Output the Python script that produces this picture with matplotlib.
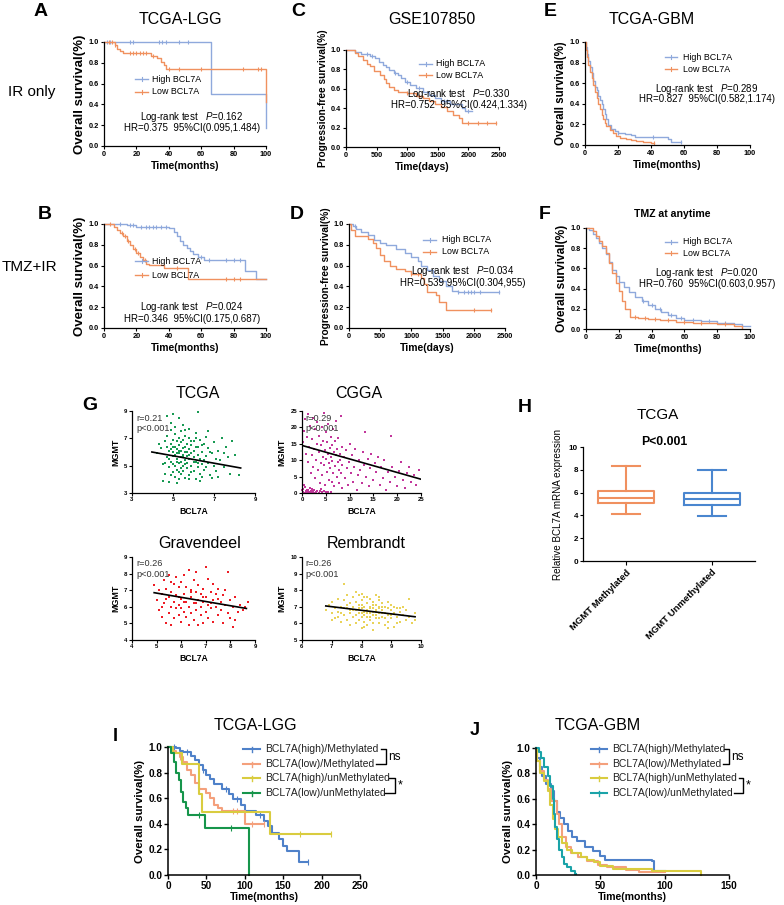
import numpy as np
import matplotlib
matplotlib.use("Agg")
import matplotlib.pyplot as plt
from matplotlib.lines import Line2D

plt.rcParams['font.family'] = ['Liberation Sans', 'DejaVu Sans']
plt.rcParams['mathtext.fontset'] = 'custom'
plt.rcParams['mathtext.it'] = 'Liberation Sans:italic'
plt.rcParams['mathtext.rm'] = 'Liberation Sans'

# ---------------- data ----------------
# A: TCGA-LGG, IR only (months)
A_high_t = [0, 66, 100, 100]
A_high_s = [1.0, 0.5, 0.5, 0.17]
A_high_c = [2, 4, 16, 18, 34, 36, 38, 46, 52]
A_low_t = [0, 7, 8, 10, 12, 29, 33, 35, 37, 38, 100, 100]
A_low_s = [1.0, 0.97, 0.93, 0.91, 0.89, 0.87, 0.85, 0.81, 0.78, 0.74, 0.74, 0.42]
A_low_c = [3, 5, 7, 16, 18, 20, 22, 24, 26, 30, 40, 46, 60, 86, 95, 97]

# B: TCGA-LGG, TMZ+IR (months)
B_high_t = [0, 14, 20, 40, 43, 45, 47, 49, 51, 53, 55, 58, 62, 87, 94, 100]
B_high_s = [1.0, 0.99, 0.97, 0.96, 0.92, 0.88, 0.84, 0.80, 0.77, 0.74, 0.71, 0.68, 0.65, 0.55, 0.47, 0.47]
B_high_c = [10, 16, 18, 23, 26, 28, 30, 32, 35, 38, 60, 65, 75, 80, 84]
B_low_t = [0, 6, 8, 10, 12, 14, 16, 18, 20, 22, 24, 26, 28, 37, 52, 100]
B_low_s = [1.0, 0.97, 0.94, 0.91, 0.88, 0.84, 0.80, 0.76, 0.72, 0.68, 0.65, 0.62, 0.61, 0.58, 0.47, 0.47]
B_low_c = [4, 11, 13, 15, 19, 21, 25, 45, 75, 80, 84]

# C: GSE107850, IR only (days)
C_high_t = [0, 150, 250, 400, 480, 540, 600, 650, 700, 780, 850, 900, 960, 1050, 1150, 1250, 1350,
            1450, 1550, 1700, 1900, 1950, 2060]
C_high_s = [1.0, 0.98, 0.96, 0.94, 0.92, 0.88, 0.85, 0.82, 0.79, 0.76, 0.74, 0.71, 0.67, 0.64, 0.61,
            0.57, 0.54, 0.51, 0.47, 0.44, 0.40, 0.37, 0.37]
C_high_c = [350, 420, 800, 1000, 1200, 1600, 1650, 2000]
C_low_t = [0, 150, 200, 280, 350, 400, 450, 550, 620, 650, 700, 780, 850, 1000, 1150, 1250, 1350,
           1450, 1550, 1650, 1750, 1850, 1900, 2450]
C_low_s = [1.0, 0.97, 0.94, 0.90, 0.86, 0.83, 0.78, 0.74, 0.70, 0.66, 0.62, 0.59, 0.57, 0.56, 0.53,
           0.50, 0.47, 0.44, 0.41, 0.37, 0.33, 0.30, 0.25, 0.25]
C_low_c = [1000, 1200, 2000, 2150, 2300, 2450]

# D: GSE107850, TMZ+IR (days)
D_high_t = [0, 60, 120, 200, 300, 400, 500, 600, 750, 900, 1000, 1100, 1150, 1250, 1350, 1450,
            1550, 1650, 1750, 2400]
D_high_s = [1.0, 0.98, 0.95, 0.92, 0.89, 0.85, 0.82, 0.80, 0.76, 0.72, 0.68, 0.64, 0.60, 0.56,
            0.50, 0.45, 0.40, 0.36, 0.35, 0.35]
D_high_c = [100, 1750, 1850, 1900, 1950, 2000, 2100, 2400]
D_low_t = [0, 30, 100, 300, 380, 440, 500, 560, 650, 750, 900, 1000, 1150, 1200, 1250, 1400,
           1450, 1550, 2270]
D_low_s = [1.0, 0.94, 0.88, 0.86, 0.82, 0.77, 0.70, 0.64, 0.60, 0.57, 0.55, 0.52, 0.48, 0.42,
           0.35, 0.32, 0.25, 0.17, 0.17]
D_low_c = [1000, 1100, 2000, 2270]

# E: TCGA-GBM (months)
E_high_t = [0, 0.5, 1, 2, 3, 4, 5, 6, 7, 8, 9, 10, 11, 12, 13, 14, 16, 18, 20, 24, 28, 30, 50, 52, 58]
E_high_s = [1.0, 0.95, 0.88, 0.82, 0.76, 0.70, 0.62, 0.56, 0.53, 0.48, 0.44, 0.40, 0.35, 0.30,
            0.25, 0.19, 0.16, 0.14, 0.12, 0.11, 0.10, 0.08, 0.06, 0.03, 0.03]
E_high_c = [20, 41, 58]
E_low_t = [0, 0.5, 1, 2, 3, 4, 5, 6, 7, 8, 9, 10, 11, 12, 13, 15, 17, 19, 21, 25, 28, 31, 35, 40, 42]
E_low_s = [1.0, 0.92, 0.85, 0.78, 0.71, 0.65, 0.58, 0.51, 0.46, 0.40, 0.35, 0.29, 0.25, 0.21,
           0.18, 0.15, 0.12, 0.09, 0.07, 0.06, 0.05, 0.04, 0.03, 0.02, 0.02]
E_low_c = [42]

# F: TMZ at anytime (months)
F_high_t = [0, 2, 4, 6, 8, 10, 12, 14, 16, 18, 20, 23, 26, 30, 34, 38, 42, 46, 50, 55, 60, 70,
            80, 90, 95, 100]
F_high_s = [1.0, 0.98, 0.94, 0.90, 0.85, 0.80, 0.74, 0.66, 0.58, 0.52, 0.47, 0.42, 0.37, 0.32,
            0.28, 0.24, 0.20, 0.17, 0.14, 0.11, 0.09, 0.08, 0.06, 0.05, 0.03, 0.03]
F_high_c = [35, 40, 45, 52, 58, 65, 75, 85]
F_low_t = [0, 3, 4, 6, 8, 10, 12, 14, 16, 18, 20, 22, 24, 27, 32, 38, 45, 55, 65, 80, 90, 95]
F_low_s = [1.0, 1.0, 0.97, 0.92, 0.87, 0.82, 0.75, 0.65, 0.55, 0.46, 0.38, 0.28, 0.20, 0.12,
           0.11, 0.10, 0.09, 0.07, 0.06, 0.05, 0.03, 0.01]
F_low_c = [30, 36, 42, 50, 60, 70, 85]

km_pvals = ["0.162", "0.330", "0.289", "0.024", "0.034", "0.020"]
km_hr = ["0.375  95%CI(0.095,1.484)", "0.752  95%CI(0.424,1.334)", "0.827  95%CI(0.582,1.174)",
         "0.346  95%CI(0.175,0.687)", "0.539 95%CI(0.304,955)", "0.760  95%CI(0.603,0.957)"]

# G: scatter BCL7A vs MGMT
tcga_x = [4.2, 4.4, 4.5, 4.6, 4.6, 4.7, 4.7, 4.8, 4.8, 4.8, 4.9, 4.9, 4.9, 5.0, 5.0, 5.0, 5.0, 5.1, 5.1, 5.1,
          5.1, 5.2, 5.2, 5.2, 5.2, 5.3, 5.3, 5.3, 5.3, 5.3, 5.4, 5.4, 5.4, 5.4, 5.5, 5.5, 5.5, 5.5, 5.5, 5.6,
          5.6, 5.6, 5.6, 5.7, 5.7, 5.7, 5.7, 5.8, 5.8, 5.8, 5.8, 5.9, 5.9, 5.9, 6.0, 6.0, 6.0, 6.0, 6.1, 6.1,
          6.1, 6.2, 6.2, 6.2, 6.3, 6.3, 6.3, 6.4, 6.4, 6.5, 6.5, 6.6, 6.6, 6.7, 6.7, 6.8, 6.9, 7.0, 7.0, 7.1,
          7.2, 7.3, 7.4, 7.5, 7.6, 7.7, 7.8, 8.0, 8.2, 7.9, 4.7, 5.0, 5.3, 6.2, 4.9, 5.5, 5.8, 4.3, 4.5, 5.2,
          4.8, 4.9, 5.0, 5.1, 5.2, 5.3, 5.4, 5.4, 5.5, 5.6, 5.6, 5.7, 5.8, 5.9, 5.9, 6.0, 6.1, 6.2, 6.4, 6.6,
          4.6, 4.7, 4.9, 5.1, 5.3, 5.6, 5.8, 6.1, 6.3, 6.7, 6.8, 6.9, 7.1, 7.2, 7.5, 6.5, 6.4, 5.0, 5.2, 5.4]
tcga_y = [5.9, 6.3, 5.1, 6.8, 4.4, 5.6, 7.2, 6.1, 4.9, 3.8, 6.6, 5.3, 7.6, 4.5, 6.0, 5.7, 6.9, 4.2, 5.0, 6.4,
          7.3, 5.5, 6.2, 4.7, 6.8, 5.9, 5.2, 7.0, 4.0, 6.5, 5.6, 6.1, 4.4, 7.5, 5.0, 6.3, 5.8, 6.9, 4.6, 5.4,
          6.0, 7.2, 4.1, 5.7, 6.6, 4.8, 5.2, 6.2, 5.5, 7.0, 4.3, 5.9, 6.5, 5.0, 5.6, 6.8, 4.6, 6.1, 5.3, 7.4,
          4.0, 5.8, 6.4, 4.9, 5.5, 6.9, 4.4, 6.0, 5.1, 6.6, 4.7, 5.7, 7.1, 5.2, 6.3, 4.3, 5.9, 6.7, 5.0, 4.6,
          6.1, 5.4, 7.0, 4.9, 6.4, 5.6, 4.4, 5.8, 4.3, 6.8, 8.6, 8.8, 8.5, 8.9, 8.1, 8.0, 7.7, 6.6, 3.9, 3.7,
          5.5, 6.2, 5.1, 5.8, 5.9, 6.1, 5.3, 6.7, 5.6, 6.4, 5.1, 6.0, 5.8, 6.8, 4.5, 5.3, 6.4, 5.2, 6.5, 4.9,
          5.2, 6.4, 4.3, 7.8, 4.5, 7.6, 4.0, 7.0, 3.9, 7.5, 6.0, 4.1, 5.5, 4.2, 5.9, 5.4, 4.2, 6.4, 5.3, 4.8]
tcga_fit_x, tcga_fit_y = [3.97, 8.3], [6.0, 4.83]

cgga_x = [0.2, 0.5, 0.8, 1.0, 1.3, 1.5, 1.8, 2.0, 2.3, 2.6, 2.9, 3.2, 3.5, 3.8, 4.2, 4.6, 5.0, 5.5, 0.3, 0.7,
          1.1, 1.6, 2.2, 0.1, 0.4, 6.0, 0.9, 1.9, 2.7, 4.0,
          0.3, 0.5, 0.6, 0.8, 1.0, 1.2, 1.3, 1.5, 1.7, 1.8, 2.0, 2.1, 2.3, 2.4, 2.6, 2.7, 2.8, 3.0, 3.1, 3.2,
          3.4, 3.5, 3.6, 3.7, 3.9, 4.0, 4.1, 4.2, 4.4, 4.5, 4.6, 4.7, 4.8, 4.9, 5.0, 5.1, 5.2, 5.3, 5.4, 5.5,
          5.6, 5.7, 5.8, 5.9, 6.0, 6.1, 6.2, 6.3, 6.4, 6.5, 6.6, 6.7, 6.8, 6.9, 7.0, 7.1, 7.2, 7.3, 7.4, 7.5,
          7.6, 7.7, 7.8, 7.9, 8.0, 8.1, 8.2, 8.3, 8.4, 8.5,
          8.8, 9.0, 9.2, 9.4, 9.6, 9.8, 10.0, 10.2, 10.5, 10.7, 11.0, 11.2, 11.5, 11.7, 12.0, 12.2, 12.5, 12.8,
          13.0, 13.3, 13.5, 13.8, 14.0, 14.3, 14.6, 15.0, 15.3, 15.6, 16.0, 16.3, 16.6, 17.0, 17.3, 17.6, 18.0,
          18.4, 18.8, 19.0, 19.5, 20.0, 20.4, 20.8, 21.2, 21.6, 22.0, 22.5, 23.0, 23.5, 24.0, 24.5]
cgga_y = [0.3, 0.1, 0.6, 0.2, 0.8, 0.4, 0.1, 0.7, 0.3, 0.9, 0.2, 0.5, 0.1, 0.7, 0.3, 0.6, 0.2, 0.4, 1.2, 1.8,
          1.0, 1.5, 1.3, 0.9, 2.5, 0.3, 0.05, 0.5, 0.05, 1.1,
          15.5, 19.0, 22.5, 12.0, 17.0, 24.0, 9.5, 14.0, 20.5, 6.0, 11.5, 16.5, 23.0, 8.0, 13.5, 19.5, 4.5,
          10.0, 15.0, 21.5, 7.0, 12.5, 17.5, 3.0, 9.0, 14.5, 20.0, 5.5, 11.0, 16.0, 24.5, 8.5, 13.0, 2.5, 18.5,
          10.5, 6.5, 15.5, 12.0, 21.0, 4.0, 9.0, 13.8, 7.5, 17.0, 11.0, 3.5, 14.5, 9.8, 19.5, 6.0, 12.5, 2.0,
          15.8, 8.2, 22.0, 11.5, 5.0, 13.5, 9.5, 16.8, 3.0, 7.0, 12.0, 10.0, 23.5, 6.0, 14.0, 1.5, 8.5,
          11.0, 4.5, 13.0, 7.5, 2.5, 9.5, 15.0, 6.0, 11.5, 3.5, 8.0, 13.5, 1.0, 5.5, 10.0, 7.0, 3.0, 12.5, 8.5,
          18.5, 5.0, 10.5, 2.0, 7.5, 12.0, 4.0, 9.0, 6.5, 11.0, 2.5, 7.8, 4.5, 10.0, 0.8, 6.5, 3.5, 17.5, 8.0,
          5.0, 2.0, 6.8, 9.5, 4.0, 1.5, 6.0, 8.0, 3.5, 5.5, 2.5, 7.0]
cgga_fit_x, cgga_fit_y = [0, 25], [14.5, 4.2]

grav_x = [4.9, 5.0, 5.1, 5.1, 5.2, 5.2, 5.3, 5.3, 5.4, 5.4, 5.5, 5.5, 5.5, 5.6, 5.6, 5.6, 5.7, 5.7, 5.7, 5.8,
          5.8, 5.8, 5.9, 5.9, 5.9, 6.0, 6.0, 6.0, 6.1, 6.1, 6.1, 6.2, 6.2, 6.2, 6.3, 6.3, 6.3, 6.4, 6.4, 6.4,
          6.5, 6.5, 6.5, 6.6, 6.6, 6.6, 6.7, 6.7, 6.7, 6.8, 6.8, 6.8, 6.9, 6.9, 6.9, 7.0, 7.0, 7.0, 7.1, 7.1,
          7.1, 7.2, 7.2, 7.3, 7.3, 7.3, 7.4, 7.4, 7.5, 7.5, 7.6, 7.6, 7.7, 7.7, 7.8, 7.8, 7.9, 7.9, 8.0, 8.0,
          8.1, 8.1, 8.2, 8.2, 8.3, 8.4, 8.5, 8.6, 8.7, 5.4, 5.6, 5.9, 6.1, 6.4, 6.6, 6.9, 7.2, 7.5, 5.2, 6.0]
grav_y = [7.3, 6.4, 5.8, 7.0, 6.8, 5.4, 7.6, 6.2, 7.1, 5.0, 6.6, 7.9, 5.6, 6.9, 6.0, 4.9, 7.4, 6.3, 5.3, 6.7,
          7.8, 5.9, 6.1, 7.2, 5.5, 6.5, 7.5, 5.1, 6.8, 5.7, 7.9, 6.3, 7.2, 5.4, 8.2, 6.0, 4.9, 7.0, 6.6, 5.6,
          7.6, 6.2, 5.2, 6.9, 8.1, 5.8, 6.4, 7.3, 4.9, 6.0, 6.8, 5.5, 7.1, 6.3, 5.0, 8.4, 6.6, 5.7, 7.7, 6.1,
          5.3, 6.9, 5.9, 6.4, 7.4, 5.1, 6.0, 6.8, 5.5, 7.1, 6.3, 5.8, 6.7, 5.0, 7.0, 6.1, 5.6, 8.1, 6.4, 5.3,
          4.8, 6.0, 5.2, 6.6, 5.7, 6.1, 5.8, 6.0, 6.3, 6.5, 7.5, 6.6, 6.3, 6.9, 6.2, 6.6, 6.2, 6.5, 6.0, 5.9]
grav_fit_x, grav_fit_y = [4.9, 8.65], [6.85, 5.9]

remb_x = [6.8, 6.9, 7.0, 7.0, 7.1, 7.1, 7.2, 7.2, 7.3, 7.3, 7.4, 7.4, 7.4, 7.5, 7.5, 7.5, 7.6, 7.6, 7.6, 7.7,
          7.7, 7.7, 7.8, 7.8, 7.8, 7.9, 7.9, 7.9, 7.9, 8.0, 8.0, 8.0, 8.0, 8.1, 8.1, 8.1, 8.1, 8.2, 8.2, 8.2,
          8.2, 8.3, 8.3, 8.3, 8.3, 8.4, 8.4, 8.4, 8.4, 8.5, 8.5, 8.5, 8.5, 8.6, 8.6, 8.6, 8.6, 8.7, 8.7, 8.7,
          8.8, 8.8, 8.8, 8.9, 8.9, 8.9, 9.0, 9.0, 9.0, 9.1, 9.1, 9.2, 9.2, 9.3, 9.3, 9.4, 9.4, 9.5, 9.5, 9.6,
          9.6, 9.7, 9.8, 9.8, 7.3, 7.5, 7.7, 7.9, 8.1, 8.2, 8.3, 8.4, 8.5, 8.6, 8.7, 8.9, 9.1, 7.8, 8.0, 8.2,
          8.4, 8.6, 8.8, 7.2, 7.6, 8.0, 8.3, 8.5, 8.7, 9.0, 7.0, 7.4, 8.1, 8.9, 9.2, 7.8, 8.6, 8.0, 8.4, 9.3]
remb_y = [6.8, 7.1, 6.6, 7.3, 6.9, 6.3, 7.5, 6.7, 7.0, 6.1, 7.4, 6.5, 8.4, 6.9, 7.7, 6.2, 7.2, 6.6, 5.9, 7.0,
          7.6, 6.4, 6.8, 7.3, 6.0, 7.1, 6.6, 7.7, 6.2, 6.9, 7.4, 6.4, 5.7, 7.0, 6.7, 7.6, 6.1, 6.8, 7.2, 6.4,
          5.9, 7.0, 6.6, 7.5, 6.2, 6.9, 7.3, 6.5, 5.6, 6.8, 7.7, 6.3, 7.1, 6.6, 7.0, 6.0, 7.4, 6.8, 6.4, 7.2,
          6.6, 5.9, 7.0, 6.5, 7.3, 6.1, 6.8, 6.3, 7.1, 6.6, 5.8, 6.9, 6.4, 6.7, 6.1, 7.0, 6.5, 6.2, 6.8, 7.5,
          6.4, 6.0, 6.6, 6.2, 6.6, 7.1, 6.8, 6.9, 6.5, 7.6, 6.9, 6.7, 6.5, 6.9, 6.6, 6.9, 7.0, 7.9, 6.6, 6.6,
          7.1, 6.3, 6.3, 6.4, 6.8, 7.1, 6.4, 6.7, 7.0, 6.5, 6.2, 6.9, 5.8, 5.7, 6.0, 6.5, 7.6, 7.8, 6.0, 6.9]
remb_fit_x, remb_fit_y = [6.8, 9.8], [7.05, 6.4]
r_texts = ["r=0.21", "r=0.29", "r=0.26", "r=0.26"]

# H: box plot
box_labels = ["MGMT Methylated", "MGMT Unmethylated"]
box_whislo = [4.15, 3.95]
box_q1 = [5.05, 4.95]
box_med = [5.5, 5.4]
box_q3 = [6.15, 5.95]
box_whishi = [8.3, 7.95]

# I: TCGA-LGG by BCL7A / MGMT
I_hm_t = [0, 10, 15, 20, 30, 35, 40, 45, 50, 55, 60, 70, 80, 85, 95, 100, 115, 125, 130, 135, 145, 150, 155, 170, 182]
I_hm_s = [1.0, 0.99, 0.97, 0.96, 0.93, 0.90, 0.86, 0.82, 0.78, 0.75, 0.71, 0.67, 0.63, 0.59, 0.55, 0.50,
          0.47, 0.42, 0.38, 0.33, 0.28, 0.23, 0.19, 0.10, 0.10]
I_hm_c = [8, 25, 45, 75, 90, 120, 182]
I_lm_t = [0, 5, 10, 15, 20, 25, 30, 35, 40, 50, 55, 60, 65, 70, 100, 125]
I_lm_s = [1.0, 0.97, 0.95, 0.92, 0.88, 0.82, 0.78, 0.72, 0.67, 0.64, 0.60, 0.55, 0.52, 0.50, 0.40, 0.40]
I_lm_c = [15, 40, 85, 90, 110, 125]
I_hu_t = [0, 7, 18, 40, 44, 133, 212]
I_hu_s = [1.0, 0.95, 0.87, 0.63, 0.49, 0.32, 0.32]
I_hu_c = [172, 212]
I_lu_t = [0, 4, 8, 11, 14, 17, 20, 23, 26, 48, 105, 105]
I_lu_s = [1.0, 0.95, 0.88, 0.80, 0.74, 0.65, 0.57, 0.52, 0.47, 0.37, 0.37, 0.0]
I_lu_c = [40, 82]

# J: TCGA-GBM by BCL7A / MGMT
J_hm_t = [0, 1, 3, 5, 8, 12, 14, 16, 19, 22, 25, 28, 32, 38, 44, 50, 54, 90, 92, 100]
J_hm_s = [1.0, 0.92, 0.85, 0.78, 0.72, 0.66, 0.58, 0.50, 0.45, 0.40, 0.35, 0.30, 0.27, 0.22, 0.19,
          0.15, 0.12, 0.11, 0.03, 0.03]
J_lm_t = [0, 1, 3, 6, 9, 12, 16, 18, 20, 23, 27, 33, 40, 48, 55, 70, 80, 100]
J_lm_s = [1.0, 0.90, 0.82, 0.75, 0.68, 0.58, 0.48, 0.40, 0.30, 0.22, 0.17, 0.14, 0.11, 0.08, 0.06,
          0.04, 0.02, 0.02]
J_hu_t = [0, 1, 3, 6, 9, 11, 13, 15, 17, 20, 24, 28, 35, 40, 45, 50, 60, 90, 128, 128]
J_hu_s = [1.0, 0.90, 0.80, 0.74, 0.66, 0.55, 0.44, 0.36, 0.30, 0.25, 0.20, 0.17, 0.14, 0.12, 0.10,
          0.07, 0.05, 0.03, 0.02, 0.0]
J_lu_t = [0, 2, 4, 6, 9, 11, 13, 14, 15, 16, 18, 20, 22, 24, 27, 30, 31]
J_lu_s = [1.0, 0.97, 0.92, 0.85, 0.78, 0.70, 0.60, 0.48, 0.38, 0.28, 0.20, 0.14, 0.09, 0.06, 0.03, 0.01, 0.01]
group_labels = ["BCL7A(high)/Methylated", "BCL7A(low)/Methylated",
                "BCL7A(high)/unMethylated", "BCL7A(low)/unMethylated"]

# ---------------- colours ----------------
BLUE_L = '#8FA9DC'
ORANGE_L = '#F0915F'
BLUE = '#4F81C9'
ORANGE = '#F4A07C'
YELLOW = '#D9CC3F'
GREEN = '#16954B'
TEAL = '#1AA3A8'

W, H = 784, 905
fig = plt.figure(figsize=(W / 100, H / 100), dpi=100)


def add_ax(x0, x1, y0, y1):
    return fig.add_axes([x0 / W, 1 - y1 / H, (x1 - x0) / W, (y1 - y0) / H])


def ftext(x, y, s, **kw):
    fig.text(x / W, 1 - y / H, s, **kw)


def fline(xs, ys, **kw):
    fig.add_artist(Line2D([x / W for x in xs], [1 - y / H for y in ys], **kw))


def prism(ax, xticks, yticks, xlabs, ylabs, fs):
    for sp in ['top', 'right']:
        ax.spines[sp].set_visible(False)
    for sp in ['left', 'bottom']:
        ax.spines[sp].set_linewidth(0.9)
    ax.set_xticks(xticks)
    ax.set_yticks(yticks)
    ax.set_xticklabels(xlabs, fontweight='bold', fontsize=fs)
    ax.set_yticklabels(ylabs, fontweight='bold', fontsize=fs)
    ax.tick_params(direction='out', length=2.5, width=0.8, pad=1.2)


def km(ax, t, s, color, lw, cens=(), ms=3.5):
    ax.step(t, s, where='post', color=color, lw=lw, clip_on=False)
    if len(cens):
        idx = np.searchsorted(t, cens, side='right') - 1
        ax.plot(cens, np.array(s)[idx], ls='none', marker='|', ms=ms, mew=0.8,
                color=color, clip_on=False)


yt = [0, 0.2, 0.4, 0.6, 0.8, 1.0]
ytl = ['0.0', '0.2', '0.4', '0.6', '0.8', '1.0']

# ---------------- A-F ----------------
km_panels = [
    # box, xmax, xstep, curves, ylabel, ylfs, xlabel, legend, logrank, index
    ((104, 266, 42, 146), 100, 20, (A_high_t, A_high_s, A_high_c, A_low_t, A_low_s, A_low_c),
     'Overall survival(%)', 9.5, 'Time(months)', (135, 148, 152, 79, 92), (192, 117, 128), 0),
    ((346, 499, 50, 147), 2500, 500, (C_high_t, C_high_s, C_high_c, C_low_t, C_low_s, C_low_c),
     'Progression-free survival(%)', 7.3, 'Time(days)', (419, 432, 436, 64, 75), (459, 94, 104.5), 1),
    ((585, 750, 42, 145), 100, 20, (E_high_t, E_high_s, E_high_c, E_low_t, E_low_s, E_low_c),
     'Overall survival(%)', 8.3, 'Time(months)', (665, 677, 683, 57, 69), (707, 88.5, 99.5), 2),
    ((104, 266, 224, 328), 100, 20, (B_high_t, B_high_s, B_high_c, B_low_t, B_low_s, B_low_c),
     'Overall survival(%)', 9.5, 'Time(months)', (135, 148, 152, 261, 275), (192, 307, 319), 3),
    ((349, 505, 224, 328), 2500, 500, (D_high_t, D_high_s, D_high_c, D_low_t, D_low_s, D_low_c),
     'Progression-free survival(%)', 7.3, 'Time(days)', (423, 436, 442, 240, 252), (463, 271, 283), 4),
    ((586, 750, 228, 329), 100, 20, (F_high_t, F_high_s, F_high_c, F_low_t, F_low_s, F_low_c),
     'Overall survival(%)', 8.6, 'Time(months)', (665, 677, 683, 242, 253), (707, 272.5, 284), 5),
]

for box, xmax, xstep, cv, ylab, ylfs, xlab, leg, lr, k in km_panels:
    ax = add_ax(*box)
    ax.set_xlim(0, xmax)
    ax.set_ylim(0, 1.0)
    xt = list(range(0, xmax + 1, xstep))
    prism(ax, xt, yt, [str(v) for v in xt], ytl, 5.3)
    km(ax, cv[0], cv[1], BLUE_L, 1.0, cv[2])
    km(ax, cv[3], cv[4], ORANGE_L, 1.0, cv[5])
    ax.set_ylabel(ylab, fontsize=ylfs, fontweight='bold', labelpad=2)
    ax.set_xlabel(xlab, fontsize=7.5, fontweight='bold', labelpad=2)
    x0, x1, xt_, yh, yl = leg
    for y, lab, c in [(yh, 'High BCL7A', BLUE_L), (yl, 'Low BCL7A', ORANGE_L)]:
        fline([x0, x1], [y, y], color=c, lw=1.0)
        fline([(x0 + x1) / 2] * 2, [y - 2, y + 2], color=c, lw=0.8)
        ftext(xt_, y, lab, fontsize=6.4, va='center')
    xc, y1, y2 = lr
    ftext(xc, y1, 'Log-rank test   $\\mathit{P}$=' + km_pvals[k], ha='center', va='center', fontsize=7.0)
    ftext(xc, y2, 'HR=' + km_hr[k], ha='center', va='center', fontsize=7.0)

ftext(41, 11, 'A', fontsize=14, fontweight='bold', ha='center', va='center')
ftext(298, 11, 'C', fontsize=14, fontweight='bold', ha='center', va='center')
ftext(550, 11, 'E', fontsize=14, fontweight='bold', ha='center', va='center')
ftext(45, 214, 'B', fontsize=14, fontweight='bold', ha='center', va='center')
ftext(297, 214, 'D', fontsize=14, fontweight='bold', ha='center', va='center')
ftext(545, 214, 'F', fontsize=14, fontweight='bold', ha='center', va='center')
ftext(180, 20, 'TCGA-LGG', fontsize=11.5, ha='center', va='center')
ftext(432, 20, 'GSE107850', fontsize=11.5, ha='center', va='center')
ftext(652, 20, 'TCGA-GBM', fontsize=11.5, ha='center', va='center')
ftext(672, 214, 'TMZ at anytime', fontsize=7.6, fontweight='bold', ha='center', va='center')
ftext(32, 92, 'IR only', fontsize=11, ha='center', va='center')
ftext(29, 267, 'TMZ+IR', fontsize=11, ha='center', va='center')

# ---------------- G ----------------
sc_panels = [
    ((132, 255, 411, 493), tcga_x, tcga_y, '#189A53', (3, 9), [3, 5, 7, 9], (3, 9), [3, 5, 7, 9],
     tcga_fit_x, tcga_fit_y, 'TCGA', (198, 394), (136, 418, 428), 0),
    ((302, 421, 411, 493), cgga_x, cgga_y, '#C2369B', (0, 25), [0, 5, 10, 15, 20, 25], (0, 25),
     [0, 5, 10, 15, 20, 25], cgga_fit_x, cgga_fit_y, 'CGGA', (359, 394), (305, 418, 428), 1),
    ((132, 255, 557, 640), grav_x, grav_y, '#EE1C25', (4, 9), [4, 5, 6, 7, 8, 9], (4, 9),
     [4, 5, 6, 7, 8, 9], grav_fit_x, grav_fit_y, 'Gravendeel', (200, 543), (136, 563, 574), 2),
    ((302, 421, 557, 640), remb_x, remb_y, '#E9D35A', (6, 10), [6, 7, 8, 9, 10], (5, 10),
     [5, 6, 7, 8, 9, 10], remb_fit_x, remb_fit_y, 'Rembrandt', (366, 543), (305, 563, 574), 3),
]
for box, xs, ys, col, xl, xtk, yl, ytk, fx_, fy_, title, tpos, rpos, k in sc_panels:
    ax = add_ax(*box)
    ax.scatter(xs, ys, s=4.5, marker='s', color=col, linewidths=0, clip_on=False)
    ax.plot(fx_, fy_, color='black', lw=1.2)
    ax.set_xlim(*xl)
    ax.set_ylim(*yl)
    prism(ax, xtk, ytk, [str(v) for v in xtk], [str(v) for v in ytk], 4.3)
    ax.tick_params(length=2)
    ax.set_xlabel('BCL7A', fontsize=6.2, fontweight='bold', labelpad=3)
    ax.set_ylabel('MGMT', fontsize=6.4, fontweight='bold', labelpad=3)
    ftext(tpos[0], tpos[1], title, fontsize=11.5, ha='center', va='center')
    ftext(rpos[0], rpos[1], r_texts[k], fontsize=6.6, va='center', color='#333333')
    ftext(rpos[0], rpos[2], 'p<0.001', fontsize=6.6, va='center', color='#333333')
ftext(90, 405, 'G', fontsize=14, fontweight='bold', ha='center', va='center')

# ---------------- H ----------------
axh = add_ax(583, 755, 447, 561)
for i, col in enumerate(['#F0905F', '#4A86CF']):
    st = [dict(med=box_med[i], q1=box_q1[i], q3=box_q3[i], whislo=box_whislo[i],
               whishi=box_whishi[i], fliers=[])]
    lp = dict(color=col, lw=1.5)
    axh.bxp(st, positions=[i + 0.5], widths=0.65, showfliers=False, capwidths=0.32,
            boxprops=lp, whiskerprops=lp, capprops=lp, medianprops=lp)
axh.set_xlim(0, 2)
axh.set_ylim(0, 10)
prism(axh, [0.5, 1.5], [0, 2, 4, 6, 8, 10], box_labels, ['0', '2', '4', '6', '8', '10'], 5.8)
for lb in axh.get_xticklabels():
    lb.set_rotation(45)
    lb.set_ha('right')
    lb.set_rotation_mode('anchor')
    lb.set_fontsize(6.8)
axh.tick_params(axis='x', length=3, pad=2)
axh.set_ylabel('Relative BCL7A mRNA expression', fontsize=7.1, labelpad=4)
ftext(525, 407, 'H', fontsize=14, fontweight='bold', ha='center', va='center')
ftext(658, 415, 'TCGA', fontsize=11, ha='center', va='center')
ftext(664, 442, 'P<0.001', fontsize=8.8, fontweight='bold', ha='center', va='center')

# ---------------- I, J ----------------
ij_panels = [
    ((168, 360, 747, 875), 250, [(I_hm_t, I_hm_s, I_hm_c), (I_lm_t, I_lm_s, I_lm_c),
                                 (I_hu_t, I_hu_s, I_hu_c), (I_lu_t, I_lu_s, I_lu_c)],
     [BLUE, ORANGE, YELLOW, GREEN], (243, 260, 265), [381, 376, 389, 384], (386, 395),
     'I', (115, 736), 'TCGA-LGG', (255, 725)),
    ((536, 729, 748, 875), 150, [(J_hm_t, J_hm_s, ()), (J_lm_t, J_lm_s, ()),
                                 (J_hu_t, J_hu_s, ()), (J_lu_t, J_lu_s, ())],
     [BLUE, ORANGE, YELLOW, TEAL], (591, 607, 612), [724, 723, 739, 734], (729, 743),
     'J', (475, 730), 'TCGA-GBM', (598, 725)),
]
rows = [749, 764, 778, 793]
for box, xmax, curves, cols, leg, ends, brx, letter, lpos, title, tpos in ij_panels:
    ax = add_ax(*box)
    ax.set_xlim(0, xmax)
    ax.set_ylim(0, 1.0)
    xt = list(range(0, xmax + 1, 50))
    prism(ax, xt, yt, [str(v) for v in xt], ytl, 7.2)
    ax.tick_params(length=3, width=1.0)
    for sp in ['left', 'bottom']:
        ax.spines[sp].set_linewidth(1.1)
    for (t, s, c), col in zip(curves, cols):
        km(ax, t, s, col, 1.5, c, ms=4)
    ax.set_ylabel('Overall survival(%)', fontsize=8.2, fontweight='bold', labelpad=2)
    ax.set_xlabel('Time(months)', fontsize=7.6, fontweight='bold', labelpad=1)
    x0, x1, xtt = leg
    for y, lab, col in zip(rows, group_labels, cols):
        fline([x0, x1], [y, y], color=col, lw=1.5)
        fline([(x0 + x1) / 2] * 2, [y - 2.5, y + 2.5], color=col, lw=1.0)
        ftext(xtt, y, lab, fontsize=7.5, va='center', color='#222222')
    b1, b2 = brx
    fline([ends[0], b1, b1, ends[1]], [rows[0], rows[0], rows[1], rows[1]], color='black', lw=1.0)
    fline([ends[2], b2, b2, ends[3]], [rows[2], rows[2], rows[3], rows[3]], color='black', lw=1.0)
    ftext(b1 + 2, (rows[0] + rows[1]) / 2, 'ns', fontsize=8.5, va='center')
    ftext(b2 + 3, (rows[2] + rows[3]) / 2, '*', fontsize=9, va='center')
    ftext(lpos[0], lpos[1], letter, fontsize=13, fontweight='bold', ha='center', va='center')
    ftext(tpos[0], tpos[1], title, fontsize=11.5, ha='center', va='center')

fig.savefig('out.png', dpi=100)
